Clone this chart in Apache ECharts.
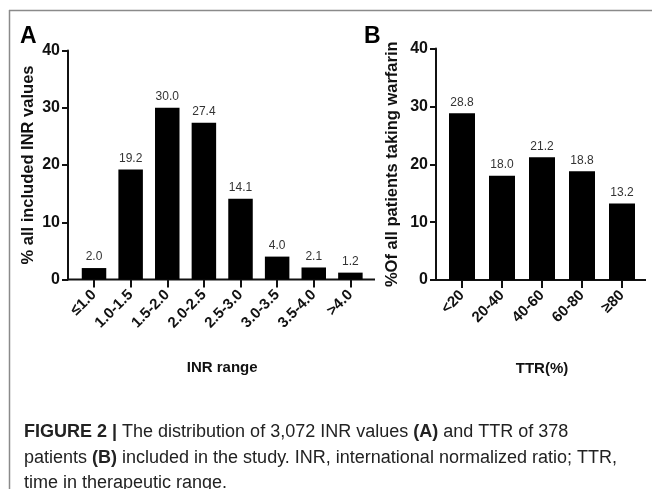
<!DOCTYPE html>
<html><head><meta charset="utf-8">
<script src="https://cdn.jsdelivr.net/npm/echarts@6/dist/echarts.min.js"></script>
<style>html,body{margin:0;padding:0;background:#fff}#c{width:652px;height:489px}</style>
</head><body><div id="c"></div>
<script>
const inrCategories = ['≤1.0','1.0-1.5','1.5-2.0','2.0-2.5','2.5-3.0','3.0-3.5','3.5-4.0','>4.0'];
const inrValues = [2.0, 19.2, 30.0, 27.4, 14.1, 4.0, 2.1, 1.2];
const ttrCategories = ['<20','20-40','40-60','60-80','≥80'];
const ttrValues = [28.8, 18.0, 21.2, 18.8, 13.2];
const yTicks = [0, 10, 20, 30, 40];

const FONT = 'Liberation Sans, Arial, Helvetica, sans-serif';
const chart = echarts.init(document.getElementById('c'), null, {renderer:'canvas'});

function yAxisCfg(gridIndex, name, offset, gap){
  return {
    type:'value', gridIndex, min:yTicks[0], max:yTicks[yTicks.length-1], interval:10, offset,
    name, nameLocation:'middle', nameGap:gap, nameRotate:90,
    nameTextStyle:{fontFamily:FONT, fontWeight:'bold', fontSize:16.5, color:'#111'},
    axisLine:{show:true, lineStyle:{color:'#111', width:2}},
    axisTick:{show:true, length:6, lineStyle:{color:'#111', width:2}},
    axisLabel:{fontFamily:FONT, fontWeight:'bold', fontSize:16, color:'#111', margin:8},
    splitLine:{show:false}
  };
}
function xAxisCfg(gridIndex, cats, name){
  return {
    type:'category', gridIndex, data:cats,
    name, nameLocation:'middle', nameGap:81,
    nameTextStyle:{fontFamily:FONT, fontWeight:'bold', fontSize:15, color:'#111'},
    axisLine:{show:false},
    axisTick:{show:true, alignWithLabel:true, length:8, lineStyle:{color:'#111', width:2}},
    axisLabel:{fontFamily:FONT, fontWeight:'bold', fontSize:15, color:'#111', rotate:45, margin:13, interval:0}
  };
}
const labelCfg = {show:true, position:'top', distance:5, fontFamily:FONT, fontSize:12, color:'#333',
  formatter:p=>p.value.toFixed(1)};

const option = {
  animation:false,
  textStyle:{fontFamily:FONT},
  grid:[
    {left:75.7, right:283.3, top:50.5, bottom:209.5},
    {left:442, right:10, top:48.5, bottom:209}
  ],
  xAxis:[xAxisCfg(0, inrCategories, 'INR range'), xAxisCfg(1, ttrCategories, 'TTR(%)')],
  yAxis:[yAxisCfg(0, '% all included INR values', 7.7, 31), yAxisCfg(1, '%Of all patients taking warfarin', 6, 35)],
  series:[
    {type:'bar', xAxisIndex:0, yAxisIndex:0, data:inrValues, barWidth:24.5,
     itemStyle:{color:'#000'}, label:labelCfg},
    {type:'bar', xAxisIndex:1, yAxisIndex:1, data:ttrValues, barWidth:26,
     itemStyle:{color:'#000'}, label:labelCfg}
  ]
};
chart.setOption(option);

// baselines and frame
const yA0 = chart.convertToPixel({yAxisIndex:0}, 0);
const yB0 = chart.convertToPixel({yAxisIndex:1}, 0);
const cap = {fontFamily:FONT, fontSize:18, fill:'#222'};
const rich = {b:{fontFamily:FONT, fontSize:18, fontWeight:'bold', fill:'#222'}};
chart.setOption({
  graphic:[
    {type:'line', shape:{x1:68, y1:yA0, x2:375, y2:yA0}, style:{stroke:'#111', lineWidth:2}},
    {type:'line', shape:{x1:436, y1:yB0, x2:646, y2:yB0}, style:{stroke:'#111', lineWidth:2}},
    {type:'line', shape:{x1:9, y1:10.5, x2:652, y2:10.5}, style:{stroke:'#8a8a8a', lineWidth:1.5}},
    {type:'line', shape:{x1:9.5, y1:10, x2:9.5, y2:489}, style:{stroke:'#8a8a8a', lineWidth:1.5}},
    {type:'text', left:20, top:25, style:{text:'A', fontFamily:FONT, fontSize:23, fontWeight:'bold', fill:'#000'}},
    {type:'text', left:364, top:25, style:{text:'B', fontFamily:FONT, fontSize:23, fontWeight:'bold', fill:'#000'}},
    {type:'text', left:24, top:423, style:Object.assign({}, cap, {rich, text:'{b|FIGURE 2 |} The distribution of 3,072 INR values {b|(A)} and TTR of 378'})},
    {type:'text', left:24, top:449, style:Object.assign({}, cap, {rich, text:'patients {b|(B)} included in the study. INR, international normalized ratio; TTR,'})},
    {type:'text', left:24, top:474, style:Object.assign({}, cap, {rich, text:'time in therapeutic range.'})}
  ]
});
</script></body></html>
